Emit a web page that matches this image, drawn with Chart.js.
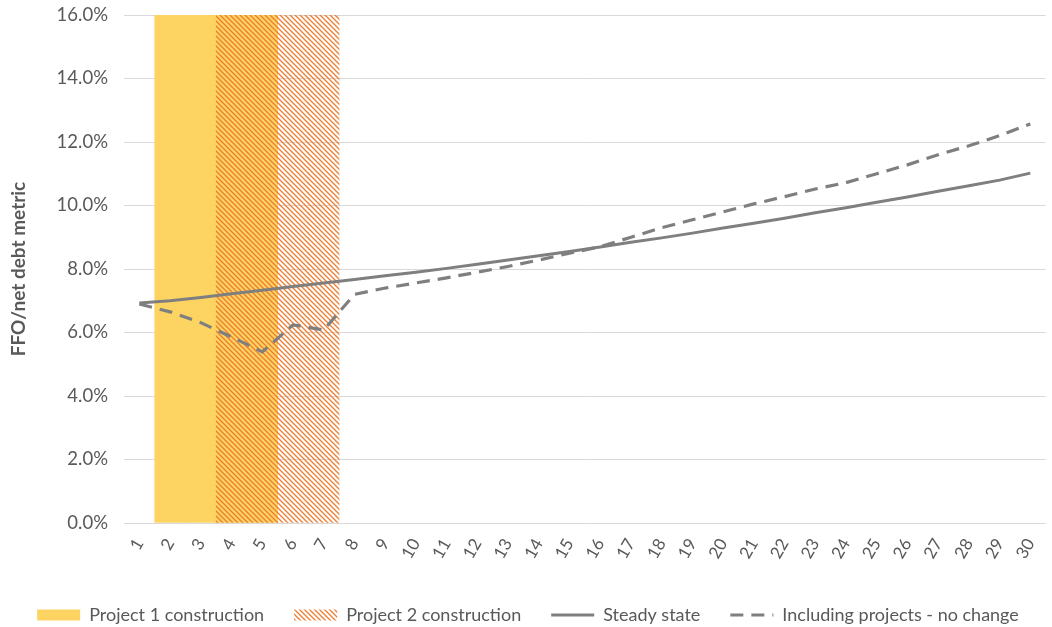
<!DOCTYPE html>
<html>
<head>
<meta charset="utf-8">
<script src="https://cdn.jsdelivr.net/npm/chart.js@4.4.1/dist/chart.umd.min.js"></script>
<style>
  html, body { margin: 0; padding: 0; overflow: hidden; background: #ffffff; }
  #wrap { width: 1052px; height: 634px; }
</style>
</head>
<body>
<div id="wrap"><canvas id="c" width="1052" height="634"></canvas></div>
<script>
// Year index along the horizontal axis
const years = ['1','2','3','4','5','6','7','8','9','10','11','12','13','14','15',
               '16','17','18','19','20','21','22','23','24','25','26','27','28','29','30'];

// Construction windows, drawn as full-height bands (value = axis maximum)
const project1Build = [null, 16, 16, 16, 16, null, null, null, null, null, null, null, null, null, null,
                       null, null, null, null, null, null, null, null, null, null, null, null, null, null, null];
const project2Build = [null, null, null, 16, 16, 16, 16, null, null, null, null, null, null, null, null,
                       null, null, null, null, null, null, null, null, null, null, null, null, null, null, null];

// FFO / net debt, in percent
const steadyState = [6.93, 7.00, 7.10, 7.22, 7.33, 7.45, 7.56, 7.67, 7.79, 7.90,
                     8.02, 8.15, 8.28, 8.42, 8.55, 8.69, 8.84, 8.98, 9.13, 9.29,
                     9.44, 9.60, 9.77, 9.93, 10.10, 10.27, 10.45, 10.62, 10.80, 11.02];
const withProjects = [6.90, 6.65, 6.31, 5.86, 5.39, 6.24, 6.08, 7.20, 7.40, 7.56,
                      7.72, 7.90, 8.08, 8.28, 8.50, 8.70, 9.00, 9.30, 9.55, 9.80,
                      10.05, 10.28, 10.52, 10.72, 11.00, 11.28, 11.60, 11.88, 12.20, 12.57];

// Value axis
const yMin = 0, yMax = 16, yStep = 2;

const FONT = 'Lato, "Noto Sans", sans-serif';
const TEXT = '#595959';
const GREY = '#7F7F7F';
const GOLD = '#FDD462';
const ORANGE = '#ED7D31';

function diagonalHatch(color) {
  const s = 5;
  const tile = document.createElement('canvas');
  tile.width = s; tile.height = s;
  const g = tile.getContext('2d');
  g.strokeStyle = color;
  g.lineWidth = 1.3;
  g.beginPath();
  g.moveTo(0, 0); g.lineTo(s, s);
  g.moveTo(-1, s - 1); g.lineTo(1, s + 1);
  g.moveTo(s - 1, -1); g.lineTo(s + 1, 1);
  g.stroke();
  return g.createPattern(tile, 'repeat');
}
const hatch = diagonalHatch(ORANGE);

new Chart(document.getElementById('c'), {
  data: {
    labels: years,
    datasets: [
      { type: 'bar', label: 'Project 1 construction', data: project1Build,
        backgroundColor: GOLD, borderWidth: 0, grouped: false,
        barPercentage: 1, categoryPercentage: 1, order: 3, legendStyle: 'rect' },
      { type: 'bar', label: 'Project 2 construction', data: project2Build,
        backgroundColor: hatch, borderWidth: 0, grouped: false,
        barPercentage: 1, categoryPercentage: 1, order: 2, legendStyle: 'rect' },
      { type: 'line', label: 'Steady state', data: steadyState,
        borderColor: GREY, backgroundColor: GREY, borderWidth: 3, pointRadius: 0,
        tension: 0, order: 1, legendStyle: 'line' },
      { type: 'line', label: 'Including projects - no change', data: withProjects,
        borderColor: GREY, backgroundColor: GREY, borderWidth: 3.2, borderDash: [13, 8],
        pointRadius: 0, tension: 0, order: 0, legendStyle: 'line' }
    ]
  },
  options: {
    responsive: false,
    animation: false,
    layout: { padding: { left: 5, right: 1, top: 0, bottom: 0 } },
    plugins: {
      tooltip: { enabled: false },
      legend: {
        position: 'bottom',
        labels: {
          color: TEXT,
          font: { family: FONT, size: 18 },
          usePointStyle: true,
          pointStyleWidth: 43,
          boxHeight: 11,
          padding: 30,
          generateLabels(chart) {
            const items = Chart.defaults.plugins.legend.labels.generateLabels(chart);
            items.sort((a, b) => a.datasetIndex - b.datasetIndex);
            items.forEach(it => {
              const ds = chart.data.datasets[it.datasetIndex];
              it.pointStyle = ds.legendStyle;
              if (ds.legendStyle === 'rect') {
                it.lineWidth = 0;
                it.lineDash = [];
              } else {
                it.lineWidth = 3;
                it.strokeStyle = GREY;
                it.lineDash = ds.borderDash || [];
              }
            });
            return items;
          }
        }
      }
    },
    scales: {
      x: {
        grid: { display: false },
        border: { display: false },
        ticks: { color: TEXT, font: { family: FONT, size: 17 }, minRotation: 60, maxRotation: 60,
                 autoSkip: false, padding: 4 },
        afterFit(scale) { scale.height = 53; }
      },
      y: {
        min: yMin, max: yMax,
        grid: { color: '#D9D9D9', lineWidth: 1, drawTicks: false },
        border: { display: false },
        ticks: { stepSize: yStep, color: TEXT, font: { family: FONT, size: 18.5 }, padding: 16,
                 callback: v => v.toFixed(1) + '%' },
        title: { display: true, text: 'FFO/net debt metric', color: TEXT,
                 font: { family: FONT, size: 19, weight: 'bold' }, padding: { top: 2, bottom: 0 } },
        afterFit(scale) {
          scale.width = 119;
          scale.paddingTop = 15;
          scale.paddingBottom = 0;
        }
      }
    }
  }
});
</script>
</body>
</html>
